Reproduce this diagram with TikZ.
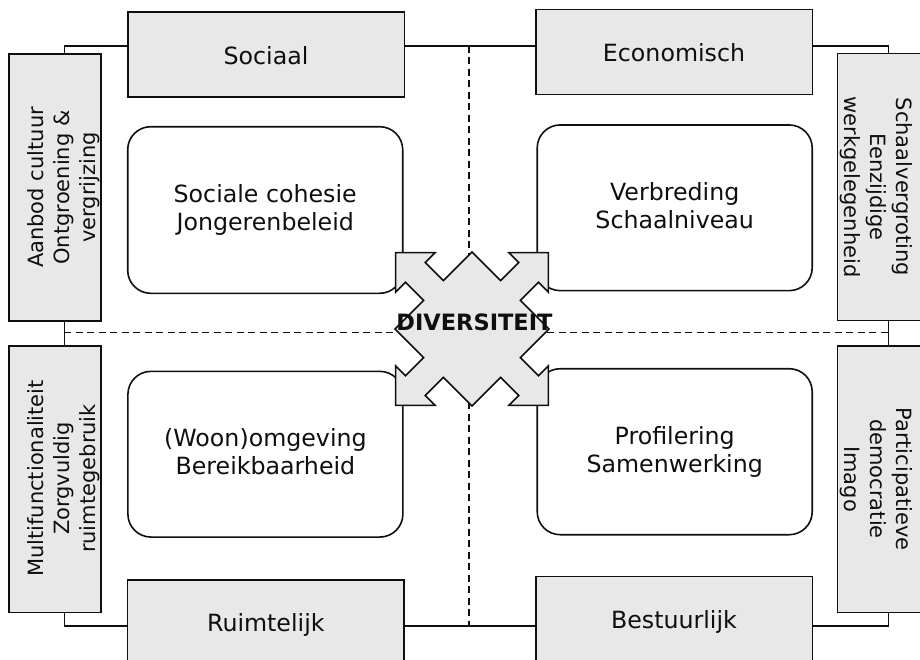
\documentclass[tikz,border=0pt]{standalone}
\usepackage{fontspec}
\setmainfont{DejaVu Sans}
\definecolor{boxgray}{RGB}{232,232,232}
\definecolor{inkc}{RGB}{15,15,15}
\begin{document}
\begin{tikzpicture}[x=1pt,y=-1pt,
  catbox/.style={draw=inkc, fill=boxgray, line width=1.6pt, minimum width=276.6pt, minimum height=85pt, inner sep=0pt},
  sidebox/.style={draw=inkc, fill=boxgray, line width=1.6pt, minimum width=92pt, minimum height=267pt, inner sep=0pt},
  roundbox/.style={draw=inkc, fill=white, rounded corners=23pt, line width=1.6pt, minimum width=275pt, minimum height=166pt, inner sep=0pt},
  bigtext/.style={font=\fontsize{23.7}{28.3}\selectfont, align=center, inner sep=0pt, text=inkc},
  sidetext/.style={font=\fontsize{21}{26}\selectfont, align=center, inner sep=0pt, text=inkc},
  frameline/.style={draw=inkc, line width=1.6pt},
  divline/.style={draw=inkc, line width=1.5pt, dash pattern=on 7pt off 4.5pt},
  arrowshape/.style={draw=inkc, fill=boxgray, line width=1.6pt, line join=miter},
]
\useasboundingbox (0,0) rectangle (920,659);
\clip (0,0) rectangle (920,659);

% frame
\coordinate (ftl) at (64.3,45.7);
\coordinate (ftr) at (888.3,45.7);
\coordinate (fbr) at (888.3,626);
\coordinate (fbl) at (64.3,626);
\draw[frameline] (ftl) -- (ftr) -- (fbr) -- (fbl) -- cycle;

% dashed dividers
\coordinate (hl) at (64.3,332.7);
\coordinate (hr) at (888.3,332.7);
\coordinate (vt) at (469,45.7);
\coordinate (vb) at (469,626);
\draw[divline] (hl) -- (hr);
\draw[divline] (vt) -- (vb);

% category boxes
\node[catbox] (soc) at (266,54.5) {};
\node[catbox] (eco) at (674,51.8) {};
\node[catbox] (ruim) at (265.8,622.3) {};
\node[catbox] (best) at (674,618.8) {};
\node[sidebox] (aan) at (54.7,187.7) {};
\node[sidebox, minimum height=266.6pt] (mult) at (54.7,479) {};
\node[sidebox] (schaal) at (883.3,187) {};
\node[sidebox, minimum height=266.6pt] (part) at (883.3,479) {};

% rounded boxes
\node[roundbox, minimum height=166.6pt] (socc) at (265.2,210) {};
\node[roundbox, minimum height=165.7pt] (verb) at (674.7,207.8) {};
\node[roundbox, minimum height=165.7pt] (woon) at (265.4,454.2) {};
\node[roundbox] (prof) at (674.7,451.7) {};

% labels
\node[bigtext, anchor=base] (socl) at (266,64) {Sociaal};
\node[bigtext, anchor=base] (ecol) at (674,61.7) {Economisch};
\node[bigtext, anchor=base] (ruiml) at (265.8,631) {Ruimtelijk};
\node[bigtext, anchor=base] (bestl) at (674,628.3) {Bestuurlijk};

\node[bigtext] (soccl) at (socc.center) {Sociale cohesie\\Jongerenbeleid};
\node[bigtext] (verbl) at (verb.center) {Verbreding\\Schaalniveau\vphantom{g}};
\node[bigtext] (woonl) at (woon.center) {(Woon)omgeving\\Bereikbaarheid\vphantom{g}};
\node[bigtext] (profl) at (prof.center) {Profilering\\Samenwerking};

\node[sidetext, rotate=90] (aanl) at (64.2,187.5) {Aanbod cultuur\\Ontgroening \&\\vergrijzing};
\node[sidetext, rotate=90] (multl) at (64.2,478.5) {Multifunctionaliteit\\Zorgvuldig\\ruimtegebruik};
\node[sidetext, rotate=-90] (schaall) at (876.7,187) {Schaalvergroting\\Eenzijdige\\werkgelegenheid};
\node[sidetext, rotate=-90] (partl) at (876.7,479) {Participatieve\\democratie\\Imago};

% four-way arrow
\draw[arrowshape, shift={(472,329)}]
  (-77,0) -- (-48.4,-28.6) -- (-66.5,-46.7) -- (-76.4,-36.8) -- (-76.4,-76.4) -- (-36.8,-76.4) -- (-46.7,-66.5) -- (-28.6,-48.4)
  -- (0,-77)
  -- (28.6,-48.4) -- (46.7,-66.5) -- (36.8,-76.4) -- (76.4,-76.4) -- (76.4,-36.8) -- (66.5,-46.7) -- (48.4,-28.6)
  -- (77,0)
  -- (48.4,28.6) -- (66.5,46.7) -- (76.4,36.8) -- (76.4,76.4) -- (36.8,76.4) -- (46.7,66.5) -- (28.6,48.4)
  -- (0,77)
  -- (-28.6,48.4) -- (-46.7,66.5) -- (-36.8,76.4) -- (-76.4,76.4) -- (-76.4,36.8) -- (-66.5,46.7) -- (-48.4,28.6)
  -- cycle;
\node[font=\fontsize{22.5}{27}\selectfont\bfseries, inner sep=0pt, anchor=base, text=inkc] (div) at (474.5,330) {DIVERSITEIT};
\end{tikzpicture}
\end{document}
